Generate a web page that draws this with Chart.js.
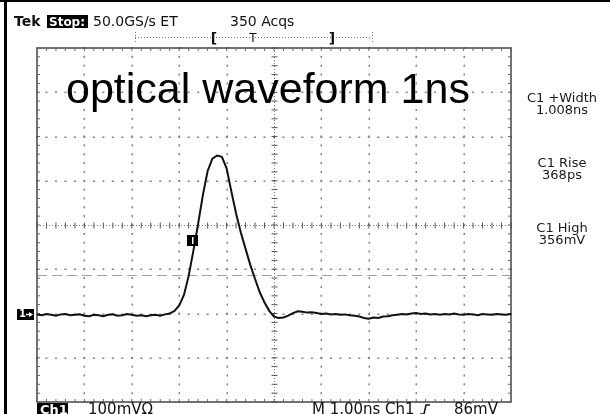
<!DOCTYPE html>
<html>
<head>
<meta charset="utf-8">
<script src="https://cdn.jsdelivr.net/npm/chart.js@4/dist/chart.umd.min.js"></script>
<style>
  html, body { margin: 0; padding: 0; background: #fff; }
  #wrap { width: 610px; height: 414px; }
</style>
</head>
<body>
<div id="wrap"><canvas id="scope" width="610" height="414"></canvas></div>
<script>
// record: 101 samples, 0.1 ns apart, starting 5 div left of centre
const timeStartNs = -5;
const timeStepNs = 0.1;
const traceMv = [
  -2, -4, -1, -3, -5, -2, -1, -4, -3, -2,
  -5, -6, -3, -4, -6, -3, -2, -5, -4, -1,
  -3, -5, -4, -6, -4, -3, -5, -2, 0, 6,
  18, 42, 85, 142, 203, 268, 322, 350, 357, 354,
  328, 276, 226, 183, 146, 110, 78, 48, 25, 6,
  -7, -10, -9, -5, 1, 5, 4, 2, 3, 1,
  -1, 0, -2, -1, -3, -2, -4, -5, -7, -10,
  -12, -9, -10, -7, -6, -4, -3, -1, -2, 0,
  1, -1, 0, -2, -1, -3, -1, -2, 0, -2,
  -3, -1, -2, -4, -1, -2, -3, -1, -2, -3,
  -1
];
const timeRangeNs = [-5, 5];
const voltRangeMv = [-200, 600];
const triggerLevelMv = 86;
const cursorMark = { t: -1.72, mv: 166 };

const titleText = "optical waveform 1ns";
const headerLabels = ["Tek", "Stop:", "50.0GS/s ET", "350 Acqs"];
const footerLabels = ["Ch1", "100mV\u03A9", "M 1.00ns", "Ch1", "86mV"];
const measureNames = ["C1 +Width", "C1 Rise", "C1 High"];
const measureValues = ["1.008ns", "368ps", "356mV"];

const READOUT = "DejaVu Sans";

const graticule = {
  id: "graticule",
  beforeDraw(chart) {
    const { ctx, chartArea: a, scales: { x, y } } = chart;
    ctx.save();
    ctx.fillStyle = "#fff";
    ctx.fillRect(0, 0, chart.width, chart.height);
    // photo edge
    ctx.fillStyle = "#000";
    ctx.fillRect(0, 0, chart.width, 2);
    ctx.fillRect(4, 0, 3, chart.height);

    const minorX = [];
    for (let t = timeRangeNs[0]; t <= timeRangeNs[1] + 1e-6; t += 0.2) minorX.push(x.getPixelForValue(t));
    const minorY = [];
    for (let v = voltRangeMv[0]; v <= voltRangeMv[1] + 1e-6; v += 20) minorY.push(y.getPixelForValue(v));

    // dotted divisions
    ctx.fillStyle = "#808080";
    for (let t = -4; t <= 4; t++) {
      if (t === 0) continue;
      const px = Math.round(x.getPixelForValue(t));
      minorY.forEach((py) => ctx.fillRect(px - 0.5, py - 1, 1.5, 2));
    }
    for (let v = -100; v <= 500; v += 100) {
      if (v === 200) continue;
      const py = Math.round(y.getPixelForValue(v));
      minorX.forEach((px) => ctx.fillRect(px - 1, py - 0.5, 2, 1.5));
    }

    // centre lines with ticks
    const cx = Math.round(x.getPixelForValue(0)) + 0.5;
    const cy = Math.round(y.getPixelForValue(200)) + 0.5;
    ctx.strokeStyle = "#777";
    ctx.lineWidth = 1;
    ctx.setLineDash([1, 2]);
    ctx.beginPath();
    ctx.moveTo(cx, a.top); ctx.lineTo(cx, a.bottom);
    ctx.moveTo(a.left, cy); ctx.lineTo(a.right, cy);
    ctx.stroke();
    ctx.setLineDash([]);
    ctx.strokeStyle = "#555";
    ctx.beginPath();
    minorY.forEach((py) => { ctx.moveTo(cx - 3, py); ctx.lineTo(cx + 3, py); });
    minorX.forEach((px) => { ctx.moveTo(px, cy - 3); ctx.lineTo(px, cy + 3); });
    ctx.stroke();

    // trigger level
    const ty = Math.round(y.getPixelForValue(triggerLevelMv)) + 0.5;
    ctx.strokeStyle = "#a0a0a0";
    ctx.setLineDash([10, 5]);
    ctx.beginPath();
    ctx.moveTo(a.left, ty); ctx.lineTo(a.right, ty);
    ctx.stroke();
    ctx.setLineDash([]);

    // frame with inward ticks
    ctx.strokeStyle = "#444";
    ctx.lineWidth = 1.5;
    ctx.strokeRect(a.left, a.top, a.right - a.left, a.bottom - a.top);
    ctx.lineWidth = 1;
    ctx.strokeStyle = "#666";
    ctx.beginPath();
    minorX.forEach((px) => {
      ctx.moveTo(px, a.top); ctx.lineTo(px, a.top + 3);
      ctx.moveTo(px, a.bottom); ctx.lineTo(px, a.bottom - 3);
    });
    minorY.forEach((py) => {
      ctx.moveTo(a.left, py); ctx.lineTo(a.left + 3, py);
      ctx.moveTo(a.right, py); ctx.lineTo(a.right - 3, py);
    });
    ctx.stroke();
    ctx.restore();
  },

  afterDatasetsDraw(chart) {
    const { ctx, scales: { x, y } } = chart;
    ctx.save();
    // ground marker "1->"
    const gy = Math.round(y.getPixelForValue(0));
    ctx.fillStyle = "#000";
    ctx.fillRect(17, gy - 5, 17, 11);
    ctx.fillStyle = "#fff";
    ctx.font = "bold 10px " + READOUT;
    ctx.textBaseline = "middle";
    ctx.fillText("1", 19, gy + 0.5);
    ctx.beginPath();
    ctx.moveTo(26, gy + 0.5); ctx.lineTo(31, gy + 0.5);
    ctx.strokeStyle = "#fff";
    ctx.lineWidth = 1.5;
    ctx.stroke();
    ctx.beginPath();
    ctx.moveTo(29, gy - 2); ctx.lineTo(33, gy + 0.5); ctx.lineTo(29, gy + 3);
    ctx.fill();

    // measurement gate marker on the trace
    const mx = Math.round(x.getPixelForValue(cursorMark.t));
    const my = Math.round(y.getPixelForValue(cursorMark.mv));
    ctx.fillStyle = "#000";
    ctx.fillRect(mx - 5, my - 5, 11, 11);
    ctx.fillStyle = "#fff";
    ctx.fillRect(mx, my - 3, 1.5, 7);
    ctx.restore();
  },

  afterDraw(chart) {
    const { ctx } = chart;
    ctx.save();
    ctx.textBaseline = "alphabetic";
    ctx.fillStyle = "#111";

    // header
    ctx.font = "bold 14px " + READOUT;
    ctx.fillText(headerLabels[0], 14, 26);
    ctx.fillStyle = "#000";
    ctx.fillRect(47, 15, 41, 13);
    ctx.fillStyle = "#fff";
    ctx.font = "bold 12px " + READOUT;
    ctx.fillText(headerLabels[1], 49, 26);
    ctx.fillStyle = "#111";
    ctx.font = "14px " + READOUT;
    ctx.fillText(headerLabels[2], 93, 26);
    ctx.fillText(headerLabels[3], 230, 26);

    // record / trigger position bar
    ctx.strokeStyle = "#777";
    ctx.lineWidth = 1;
    ctx.setLineDash([1, 2]);
    ctx.beginPath();
    ctx.moveTo(135, 37.5); ctx.lineTo(372, 37.5);
    ctx.moveTo(135.5, 32); ctx.lineTo(135.5, 43);
    ctx.moveTo(372.5, 32); ctx.lineTo(372.5, 43);
    ctx.stroke();
    ctx.setLineDash([]);
    ctx.font = "bold 14px " + READOUT;
    ctx.textAlign = "center";
    ctx.fillText("[", 214, 43);
    ctx.fillText("]", 332, 43);
    ctx.font = "12px " + READOUT;
    ctx.fillText("T", 253, 42);
    ctx.textAlign = "left";

    // title
    ctx.fillStyle = "#000";
    ctx.font = "43px 'Liberation Sans', Arial, sans-serif";
    ctx.fillText(titleText, 66, 103);

    // measurement readouts
    ctx.fillStyle = "#1a1a1a";
    ctx.font = "13px " + READOUT;
    ctx.textAlign = "center";
    ctx.textBaseline = "middle";
    const rows = [99, 164, 229];
    measureNames.forEach((name, i) => {
      ctx.fillText(name, 562, rows[i]);
      ctx.fillText(measureValues[i], 562, rows[i] + 12);
    });

    // footer
    ctx.textAlign = "left";
    ctx.textBaseline = "alphabetic";
    ctx.fillStyle = "#000";
    ctx.fillRect(37, 403, 31, 11);
    ctx.fillStyle = "#fff";
    ctx.font = "bold 13px " + READOUT;
    ctx.fillText(footerLabels[0], 40, 414);
    ctx.fillStyle = "#111";
    ctx.font = "15px " + READOUT;
    ctx.fillText(footerLabels[1], 88, 414);
    ctx.fillText(footerLabels[2], 312, 414);
    ctx.fillText(footerLabels[3], 385, 414);
    ctx.strokeStyle = "#111";
    ctx.lineWidth = 1.5;
    ctx.beginPath();
    ctx.moveTo(420, 414); ctx.lineTo(424, 414); ctx.lineTo(426, 405); ctx.lineTo(430, 405);
    ctx.stroke();
    ctx.fillText(footerLabels[4], 454, 414);
    ctx.restore();
  }
};

new Chart(document.getElementById("scope"), {
  type: "line",
  data: {
    datasets: [{
      data: traceMv.map((v, i) => ({ x: timeStartNs + i * timeStepNs, y: v })),
      borderColor: "#111",
      borderWidth: 2,
      pointRadius: 0,
      tension: 0,
      fill: false
    }]
  },
  options: {
    responsive: false,
    animation: false,
    devicePixelRatio: 1,
    layout: { padding: { left: 37, right: 99, top: 48, bottom: 12 } },
    plugins: { legend: { display: false }, tooltip: { enabled: false } },
    scales: {
      x: { type: "linear", min: timeRangeNs[0], max: timeRangeNs[1], display: false },
      y: { type: "linear", min: voltRangeMv[0], max: voltRangeMv[1], display: false }
    }
  },
  plugins: [graticule]
});
</script>
</body>
</html>
